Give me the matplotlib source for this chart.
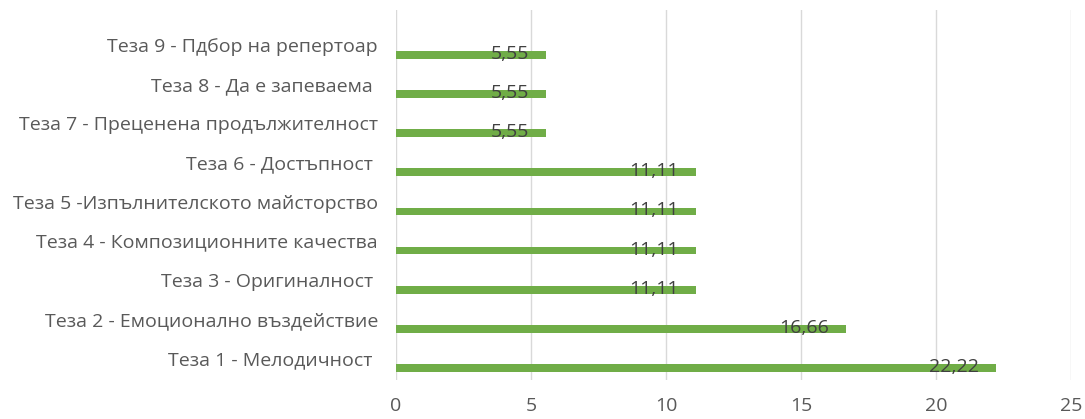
import matplotlib
matplotlib.use("Agg")
import matplotlib.pyplot as plt

categories = [
    "Теза 1 - Мелодичност ",
    "Теза 2 - Емоционално въздействие",
    "Теза 3 - Оригиналност ",
    "Теза 4 - Композиционните качества",
    "Теза 5 -Изпълнителското майсторство",
    "Теза 6 - Достъпност ",
    "Теза 7 - Преценена продължителност",
    "Теза 8 - Да е запеваема ",
    "Теза 9 - Пдбор на репертоар",
]
values = [22.22, 16.66, 11.11, 11.11, 11.11, 11.11, 5.55, 5.55, 5.55]
value_labels = ["22,22", "16,66", "11,11", "11,11", "11,11", "11,11", "5,55", "5,55", "5,55"]
xticks = [0, 5, 10, 15, 20, 25]

plt.rcParams['font.family'] = ['Open Sans', 'DejaVu Sans']

W, H = 1085, 419
fig = plt.figure(figsize=(W / 100, H / 100), dpi=100)
ax = fig.add_axes([396 / W, 1 - 380 / H, (1071 - 396) / W, (380 - 10) / H])

pos = list(range(len(categories)))
bar_pos = [p - 0.25 for p in pos]
ax.barh(bar_pos, values, height=0.2, color="#70ad47", zorder=3)

for y, v, lab in zip(bar_pos, values, value_labels):
    ax.annotate(lab, (v, y), xytext=(-17, 1), textcoords="offset pixels",
                ha="right", va="center", fontsize=14, color="#404040", zorder=4)

ax.set_xlim(0, 25)
ax.set_ylim(-0.56, 8.9)
ax.set_xticks(xticks)
ax.set_xticklabels([str(t) for t in xticks], fontsize=14, color="#595959")
ax.set_yticks(pos)
ax.set_yticklabels(categories, fontsize=14, color="#595959")
ax.tick_params(axis="both", length=0)
ax.tick_params(axis="y", pad=13)
ax.tick_params(axis="x", pad=12)
ax.grid(axis="x", color="#d9d9d9", linewidth=1, zorder=0)
for s in ax.spines.values():
    s.set_visible(False)

fig.savefig("out.png", dpi=100)
